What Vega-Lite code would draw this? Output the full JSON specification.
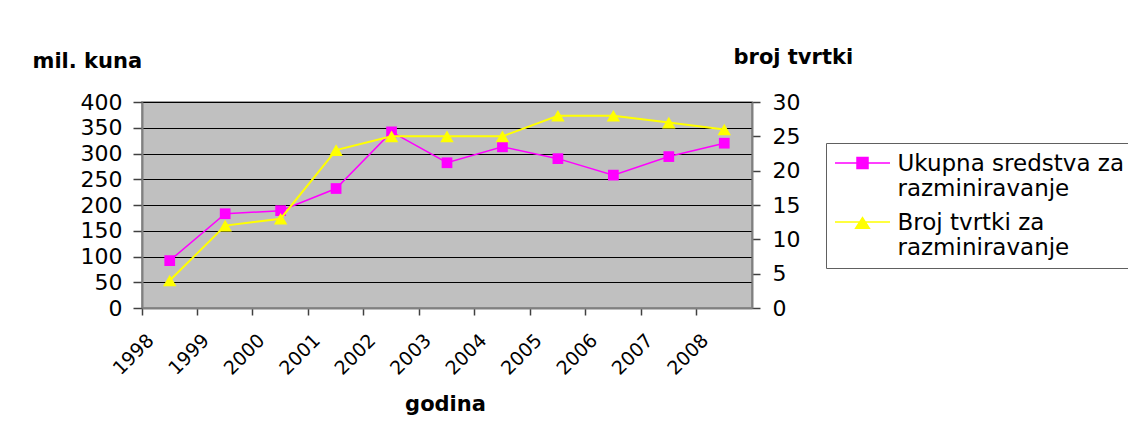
{
  "$schema": "https://vega.github.io/schema/vega-lite/v6.json",
  "autosize": {"type": "none"},
  "width": 610,
  "height": 206,
  "padding": {"left": 142, "top": 102, "right": 376, "bottom": 130},
  "background": "white",
  "config": {
    "font": "DejaVu Sans",
    "view": {"stroke": "#808080", "strokeWidth": 1.5, "fill": "#C0C0C0"},
    "axis": {
      "labelFont": "DejaVu Sans",
      "labelFontSize": 22,
      "labelColor": "black",
      "titleFont": "DejaVu Sans",
      "titleFontSize": 21,
      "titleFontWeight": "bold",
      "titleColor": "black",
      "domainColor": "#808080",
      "domainWidth": 2,
      "tickColor": "#404040",
      "tickWidth": 1.5
    }
  },
  "data": {
    "values": [
      {"godina": "1998", "sredstva": 92, "tvrtke": 4},
      {"godina": "1999", "sredstva": 183, "tvrtke": 12},
      {"godina": "2000", "sredstva": 189, "tvrtke": 13},
      {"godina": "2001", "sredstva": 232, "tvrtke": 23},
      {"godina": "2002", "sredstva": 342, "tvrtke": 25},
      {"godina": "2003", "sredstva": 282, "tvrtke": 25},
      {"godina": "2004", "sredstva": 313, "tvrtke": 25},
      {"godina": "2005", "sredstva": 290, "tvrtke": 28},
      {"godina": "2006", "sredstva": 258, "tvrtke": 28},
      {"godina": "2007", "sredstva": 294, "tvrtke": 27},
      {"godina": "2008", "sredstva": 320, "tvrtke": 26}
    ]
  },
  "encoding": {
    "x": {
      "field": "godina",
      "type": "ordinal",
      "scale": {"type": "band", "paddingInner": 0, "paddingOuter": 0},
      "axis": {
        "title": "godina",
        "bandPosition": 0,
        "labelAngle": -45,
        "labelAlign": "right",
        "labelBaseline": "middle",
        "labelFontSize": 19,
        "labelOffset": -19,
        "labelPadding": 22,
        "tickSize": 7,
        "grid": false,
        "titleX": 303,
        "titleY": 102,
        "titleBaseline": "alphabetic",
        "titleAlign": "center"
      }
    }
  },
  "layer": [
    {
      "mark": {
        "type": "line",
        "strokeWidth": 1.5,
        "point": {"shape": "square", "size": 115, "filled": true, "opacity": 1}
      },
      "encoding": {
        "y": {
          "field": "sredstva",
          "type": "quantitative",
          "scale": {"domain": [0, 400], "nice": false},
          "axis": {
            "orient": "left",
            "title": "mil. kuna",
            "values": [0, 50, 100, 150, 200, 250, 300, 350, 400],
            "grid": true,
            "gridColor": "black",
            "gridWidth": 1,
            "gridOpacity": 1,
            "tickSize": 9,
            "labelPadding": 11,
            "titleAngle": 0,
            "titleX": -110,
            "titleY": -35,
            "titleAlign": "left",
            "titleBaseline": "alphabetic"
          }
        },
        "color": {
          "datum": "Ukupna sredstva za razminiravanje",
          "type": "nominal",
          "scale": {
            "domain": ["Ukupna sredstva za razminiravanje", "Broj tvrtki za razminiravanje"],
            "range": ["#FF00FF", "#FFFF00"]
          },
          "legend": {
            "title": null,
            "orient": "none",
            "legendX": 684,
            "legendY": 41,
            "strokeColor": "#606060",
            "fillColor": "white",
            "padding": 8,
            "symbolSize": 484,
            "symbolOffset": 16.5,
            "labelFont": "DejaVu Sans",
            "labelFontSize": 23,
            "labelColor": "black",
            "labelLimit": 400,
            "labelOffset": 23,
            "rowPadding": 9,
            "labelExpr": "datum.label === 'Ukupna sredstva za razminiravanje' ? ['Ukupna sredstva za', 'razminiravanje'] : ['Broj tvrtki za', 'razminiravanje']",
            "encode": {
              "symbols": {
                "update": {
                  "shape": {"signal": "datum.value === 'Ukupna sredstva za razminiravanje' ? 'M-2.5,0H2.5M-0.5,-0.5H0.5V0.5H-0.5Z' : 'M-2.5,0H2.5M0,-0.4L0.62,0.56H-0.62Z'"},
                  "fill": {"scale": "color", "field": "value"},
                  "stroke": {"scale": "color", "field": "value"},
                  "strokeWidth": {"value": 1.5},
                  "opacity": {"value": 1}
                }
              },
              "labels": {
                "update": {
                  "dy": {"value": 1},
                  "lineHeight": {"value": 25}
                }
              }
            }
          }
        }
      }
    },
    {
      "mark": {
        "type": "line",
        "strokeWidth": 2,
        "point": {"shape": "triangle-up", "size": 180, "filled": true, "opacity": 1}
      },
      "encoding": {
        "y": {
          "field": "tvrtke",
          "type": "quantitative",
          "scale": {"domain": [0, 30], "nice": false},
          "axis": {
            "orient": "right",
            "title": "broj tvrtki",
            "values": [0, 5, 10, 15, 20, 25, 30],
            "grid": false,
            "tickSize": 8,
            "labelPadding": 12,
            "titleAngle": 0,
            "titleX": -19,
            "titleY": -39,
            "titleAlign": "left",
            "titleBaseline": "alphabetic"
          }
        },
        "color": {
          "datum": "Broj tvrtki za razminiravanje",
          "type": "nominal"
        }
      }
    }
  ],
  "resolve": {"scale": {"y": "independent"}}
}
